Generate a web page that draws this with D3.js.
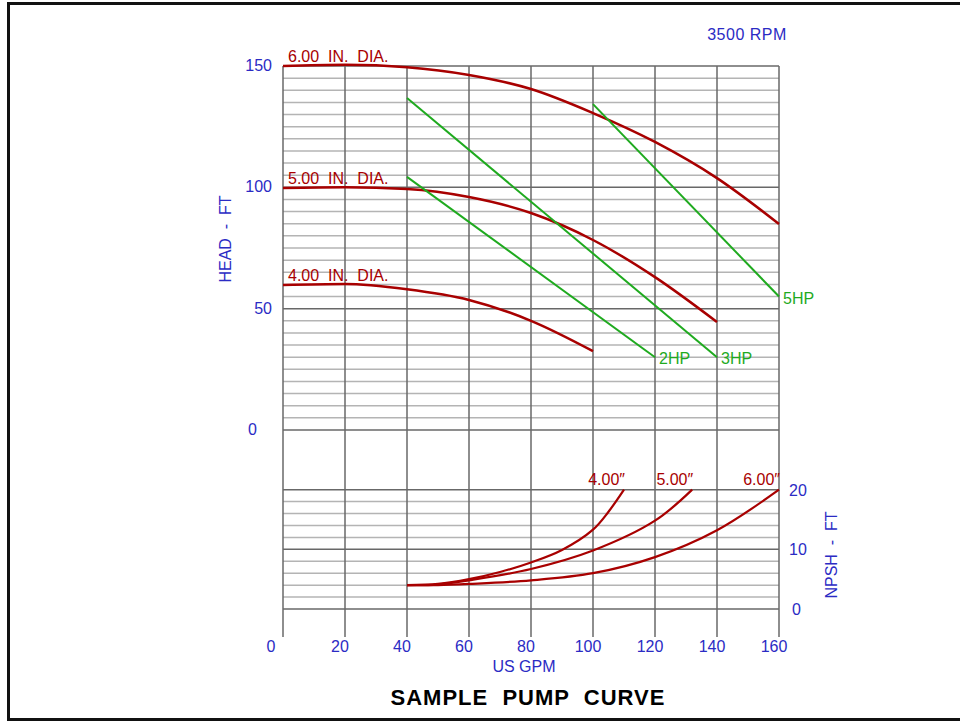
<!DOCTYPE html>
<html>
<head>
<meta charset="utf-8">
<script src="https://cdn.jsdelivr.net/npm/d3@7"></script>
<style>
  body { margin: 0; background: #fff; }
  svg { display: block; }
  text { font-family: "Liberation Sans", Arial, sans-serif; }
</style>
</head>
<body>
<div id="chart"></div>
<script>
// ---------- data ----------
const gpmTicks = [0, 20, 40, 60, 80, 100, 120, 140, 160];
const headTicks = [0, 50, 100, 150];
const npshTicks = [0, 10, 20];

// head curves (gpm, ft)
const dia6Gpm = [0, 20, 40, 60, 80, 100, 120, 140, 160];
const dia6Head = [150, 150.5, 149.5, 146.3, 140.5, 130.6, 118.7, 103.8, 84.9];
const dia5Gpm = [0, 20, 40, 60, 80, 100, 120, 140];
const dia5Head = [99.7, 100, 99.3, 96, 89.4, 78.3, 63, 44.5];
const dia4Gpm = [0, 20, 40, 60, 80, 100];
const dia4Head = [59.8, 60.2, 58, 53.6, 45, 32.5];

// horsepower lines (gpm, ft)
const hpLines = [
  { label: "2HP", gpm: [40, 120], head: [104.3, 30] },
  { label: "3HP", gpm: [40, 140], head: [136.8, 30] },
  { label: "5HP", gpm: [100, 160], head: [134.3, 55] }
];

// npsh curves (gpm, ft)
const npsh4Gpm = [40, 50, 60, 70, 80, 90, 100, 105, 110];
const npsh4 = [4, 4.2, 5, 6.2, 7.8, 9.9, 13.3, 16.3, 20];
const npsh5Gpm = [40, 50, 60, 80, 100, 120, 132];
const npsh5 = [4, 4.1, 4.8, 6.7, 9.8, 14.8, 20];
const npsh6Gpm = [40, 50, 60, 80, 100, 120, 140, 160];
const npsh6 = [4, 4, 4.2, 4.8, 6, 8.7, 13.2, 20];

// ---------- setup ----------
const width = 960, height = 721;
const red = "#a80000", green = "#1faa1f", blue = "#2b2bc4";
const fs = 16;

const svg = d3.select("#chart").append("svg")
  .attr("width", width).attr("height", height);

// frame
svg.append("path")
  .attr("d", "M965,3.5 H8.5 V719.5 H965")
  .attr("fill", "none").attr("stroke", "#111").attr("stroke-width", 3);

const x = d3.scaleLinear().domain([0, 160]).range([283, 779]);
const yHead = d3.scaleLinear().domain([0, 150]).range([430, 66]);
const yNpsh = d3.scaleLinear().domain([0, 30]).range([609, 430]);

// ---------- grid ----------
const grid = svg.append("g");
grid.selectAll(".hminor")
  .data(d3.range(5, 150, 5).filter(d => d % 50 !== 0))
  .join("line")
  .attr("x1", x(0)).attr("x2", x(160))
  .attr("y1", d => yHead(d)).attr("y2", d => yHead(d))
  .attr("stroke", "#b4b4b4").attr("stroke-width", 1.5);
grid.selectAll(".nminor")
  .data(d3.range(2, 20, 2).filter(d => d % 10 !== 0))
  .join("line")
  .attr("x1", x(0)).attr("x2", x(160))
  .attr("y1", d => yNpsh(d)).attr("y2", d => yNpsh(d))
  .attr("stroke", "#b4b4b4").attr("stroke-width", 1.5);
grid.selectAll(".hmajor")
  .data(headTicks)
  .join("line")
  .attr("x1", x(0)).attr("x2", x(160))
  .attr("y1", d => yHead(d)).attr("y2", d => yHead(d))
  .attr("stroke", "#686868").attr("stroke-width", 1.5);
grid.selectAll(".nmajor")
  .data(npshTicks)
  .join("line")
  .attr("x1", x(0)).attr("x2", x(160))
  .attr("y1", d => yNpsh(d)).attr("y2", d => yNpsh(d))
  .attr("stroke", "#686868").attr("stroke-width", 1.5);
grid.selectAll(".vline")
  .data(gpmTicks)
  .join("line")
  .attr("x1", d => x(d)).attr("x2", d => x(d))
  .attr("y1", yHead(150)).attr("y2", 637)
  .attr("stroke", "#686868").attr("stroke-width", 1.5);

// ---------- labels on axes ----------
svg.selectAll(".xlab")
  .data(gpmTicks)
  .join("text")
  .attr("x", d => x(d) - (d === 0 ? 12 : 5))
  .attr("y", 652)
  .attr("text-anchor", "middle")
  .attr("font-size", fs).attr("fill", blue)
  .text(d => d);

svg.selectAll(".ylab")
  .data(headTicks)
  .join("text")
  .attr("x", d => d === 0 ? 257 : 272)
  .attr("y", d => yHead(d) + 5)
  .attr("text-anchor", "end")
  .attr("font-size", fs).attr("fill", blue)
  .text(d => d);

svg.selectAll(".nlab")
  .data(npshTicks)
  .join("text")
  .attr("x", d => d === 0 ? 792 : 789)
  .attr("y", d => yNpsh(d) + 6)
  .attr("font-size", fs).attr("fill", blue)
  .text(d => d);

svg.append("text")
  .attr("transform", "translate(231,239) rotate(-90)")
  .attr("text-anchor", "middle")
  .attr("font-size", fs).attr("fill", blue)
  .style("white-space", "pre")
  .text("HEAD  -  FT");

svg.append("text")
  .attr("transform", "translate(837,555) rotate(-90)")
  .attr("text-anchor", "middle")
  .attr("font-size", fs).attr("fill", blue)
  .style("white-space", "pre")
  .text("NPSH  -  FT");

svg.append("text")
  .attr("x", 524).attr("y", 672)
  .attr("text-anchor", "middle")
  .attr("font-size", fs).attr("fill", blue)
  .text("US GPM");

svg.append("text")
  .attr("x", 747).attr("y", 40)
  .attr("text-anchor", "middle")
  .attr("font-size", fs).attr("fill", blue)
  .attr("letter-spacing", 0.5)
  .text("3500 RPM");

svg.append("text")
  .attr("x", 528).attr("y", 705)
  .attr("text-anchor", "middle")
  .attr("font-size", 22).attr("font-weight", "bold").attr("fill", "#000")
  .attr("letter-spacing", 1)
  .style("white-space", "pre")
  .text("SAMPLE  PUMP  CURVE");

// ---------- curves ----------
const headLine = d3.line()
  .x(d => x(d[0])).y(d => yHead(d[1]))
  .curve(d3.curveMonotoneX);
const npshLine = d3.line()
  .x(d => x(d[0])).y(d => yNpsh(d[1]))
  .curve(d3.curveCatmullRom);

const headCurves = [
  { label: "6.00  IN.  DIA.", pts: d3.zip(dia6Gpm, dia6Head) },
  { label: "5.00  IN.  DIA.", pts: d3.zip(dia5Gpm, dia5Head) },
  { label: "4.00  IN.  DIA.", pts: d3.zip(dia4Gpm, dia4Head) }
];

headCurves.forEach(c => {
  svg.append("path")
    .attr("d", headLine(c.pts))
    .attr("fill", "none").attr("stroke", red).attr("stroke-width", 2.5);
  svg.append("text")
    .attr("x", x(0) + 5)
    .attr("y", yHead(c.pts[0][1]) - 4)
    .attr("font-size", fs).attr("fill", red)
    .style("white-space", "pre")
    .text(c.label);
});

hpLines.forEach(h => {
  const pts = d3.zip(h.gpm, h.head);
  svg.append("path")
    .attr("d", headLine(pts))
    .attr("fill", "none").attr("stroke", green).attr("stroke-width", 2);
  const last = pts[pts.length - 1];
  svg.append("text")
    .attr("x", x(last[0]) + 4)
    .attr("y", yHead(last[1]) + 7)
    .attr("font-size", fs).attr("fill", green)
    .text(h.label);
});

const npshCurves = [
  { label: "4.00\u2033", pts: d3.zip(npsh4Gpm, npsh4) },
  { label: "5.00\u2033", pts: d3.zip(npsh5Gpm, npsh5) },
  { label: "6.00\u2033", pts: d3.zip(npsh6Gpm, npsh6) }
];

npshCurves.forEach(c => {
  svg.append("path")
    .attr("d", npshLine(c.pts))
    .attr("fill", "none").attr("stroke", red).attr("stroke-width", 2.2);
  const last = c.pts[c.pts.length - 1];
  svg.append("text")
    .attr("x", x(last[0]) + 1)
    .attr("y", yNpsh(last[1]) - 5)
    .attr("text-anchor", "end")
    .attr("font-size", fs).attr("fill", red)
    .text(c.label);
});
</script>
</body>
</html>
